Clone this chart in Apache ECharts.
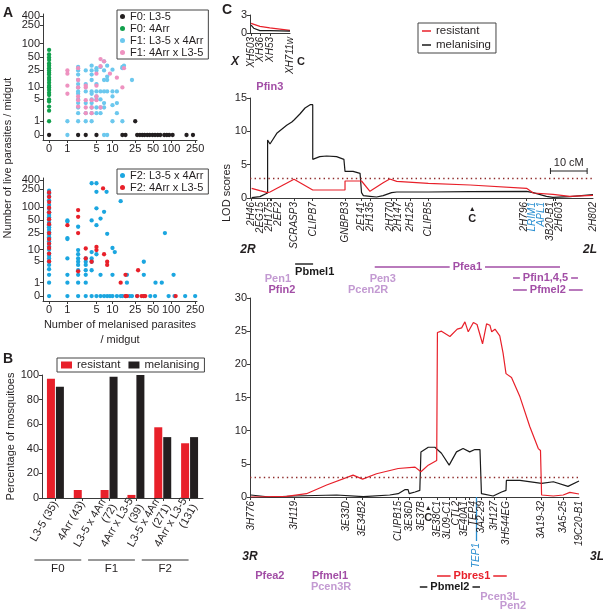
<!DOCTYPE html>
<html><head><meta charset="utf-8">
<script src="https://cdn.jsdelivr.net/npm/echarts@6/dist/echarts.min.js"></script>
<style>html,body{margin:0;padding:0;background:#fff}#c{width:603px;height:613px}</style>
</head><body><div id="c"></div>
<script>
// ================= DATA =================
// Panel A tick labels (log(x+1) scale)
const aTicksX = [0, 1, 5, 10, 25, 50, 100, 250];
const aTicksY = [0, 1, 5, 10, 25, 50, 100, 250, 400];
// Panel A top: [melanised, live]
const f0L35 = [[0,0],[2,0],[3,0],[5,0],[15,0],[17,0],[27,0],[30,0],[33,0],[36,0],[40,0],[44,0],[49,0],[54,0],[60,0],[66,0],[77,0],[85,0],[93,0],[106,0],[180,0],[230,0],[25,1]];
const f04Arr = [[0,72],[0,57],[0,49],[0,43],[0,36],[0,32],[0,28],[0,25],[0,22],[0,20],[0,17],[0,15],[0,13],[0,11],[0,10],[0,8.7],[0,7.4],[0,6.5],[0,5],[0,4.4],[0,3.2],[0,2.4],[0,1]];
const f1L35x4Arr = [[1,1],[1,0],[2,30],[2,25],[2,20],[2,15],[2,12],[2,10],[2,8],[2,7],[2,5],[2,4],[2,3],[2,2],[2,1],
  [3,25],[3,12],[3,8],[3,4],[3,2],[3,1],[4,32],[4,25],[4,20],[4,15],[4,8],[4,7],[4,5],[4,4],[4,3],[4,2],[4,1],
  [5,28],[5,25],[5,12],[5,8],[5,6],[5,5],[5,3],[5,2],[6,30],[6,8],[6,5],[6,3],[6,2],[7,40],[7,25],[7,15],[7,8],[7,4],[7,3],[7,0],
  [8,32],[8,18],[8,15],[8,8],[8,0],[10,26],[10,8],[10,6],[10,3.5],[10,1],[12,8],[12,4],[12,2],[15,30],[15,28],[15,1],[16,32],[22,15]];
const f14ArrxL35 = [[1,25],[1,21],[1,11],[1,7],[2,28],[2,15],[2,10],[2,6],[2,4.8],[2,3.2],[3,11],[3,10],[3,4.8],[3,3],[3,2],
  [4,4.8],[4,3],[4,2],[5,21],[5,11],[5,6],[5,4.8],[6,45],[6,31],[6,3],[7,40],[9,21],[12,17],[15,10],[16,28]];
// Panel A bottom
const f2L35x4Arr = [[0,0],[0,1],[0,2],[0,3],[0,4],[0,5],[0,6],[0,7],[0,8],[0,10],[0,12],[0,14],[0,16],[0,18],[0,20],[0,23],[0,26],[0,30],[0,34],[0,38],[0,43],[0,50],[0,58],[0,65],[0,75],[0,90],[0,110],[0,140],[0,170],[0,200],[0,230],
  [1,49],[1,46],[1,19],[1,18],[1,6],[1,2],[1,1],[1,0],[2,35],[2,9.8],[2,7.7],[2,6],[2,4.9],[2,4],[2,2.8],[2,2],[2,1],[2,0],
  [3,6],[3,4.9],[3,4],[3,2.8],[3,2],[3,1],[3,0],[4,340],[4,49],[4,8.7],[4,6],[4,4.9],[4,2.8],[4,0],[5,340],[5,218],[5,92],[5,38],[5,7.7],[5,0],
  [6,54],[6,2],[6,0],[7,77],[7,0],[7.8,218],[8,24],[8,0],[9,0],[10,11],[10,2],[10,0],[11,8.7],[12,0],[14,134],[14,0],[15,0],[17,0],[18,2],[18,1],[20,0],[22,0],
  [27,0],[35,4.9],[35,2],[35,0],[45,0],[54,0],[55,1],[70,1],[79,25],[91,0],[110,2],[114,0],[171,0],[250,0]];
const f24ArrxL35 = [[0,5],[0,8],[0,11],[0,14],[0,18],[0,25],[0,40],[0,52],[0,75],[0,95],[0,128],[0,167],[0,210],
  [1,38],[2,84],[2,59],[2,25],[2,2.6],[3,10.7],[3,6],[4,4.9],[5,11.7],[5,9.8],[6.7,260],[7,7.7],[8,4.9],[8,4],[14,1],[17,2],[28,2.8],
  [17,0],[18,0],[27,0],[32,0],[35,0],[37,0],[119,0]];
// Panel B
const bCats = ['L3-5 (35)', '4Arr (43)', 'L3-5 x 4Arr\n(72)', '4Arr x L3-5\n(39)', 'L3-5 x 4Arr\n(271)', '4Arr x L3-5\n(131)'];
const bResistant = [97, 6.5, 6.5, 2.5, 57.5, 44.5];
const bMelanising = [90.5, 0, 98.5, 100, 49.5, 49.5];
const bGroupNames = ['F0', 'F1', 'F2'];
const bGroupFirst = [0, 2, 4];
const bGroupLast = [1, 3, 5];
// Panel C, chromosome X (cM, LOD)
const chrXMarkers = ['XH503', 'XH36', 'XH53', 'XH711w'];
const chrXPos = [0.3, 2.7, 5.4, 10.9];
const chrXRes = [[0.3,1.6],[2.7,1.1],[5.4,0.85],[10.9,0.45]];
const chrXMel = [[0.3,1.3],[1.0,0.8],[2.7,0.4],[5.4,0.38],[10.9,0.3]];
// Chromosome 2
const chr2Markers = ['2H46','2EG15','2H175','2EF2','SCRASP3','CLIPB7','GNBPB3','2E141','2H135','2H770','2H147','2H125','CLIPB5','2H796','LRIM1','APL1','3B20-B1','2H603','2H802'];
const chr2Pos = [0.45, 4.8, 5.45, 5.7, 12.0, 17.1, 25.9, 30.4, 32.7, 38.6, 40.0, 43.6, 48.6, 75.4, 77.2, 79.0, 82.6, 83.1, 93.5];
const chr2Genes = ['LRIM1', 'APL1'];
const chr2Centromere = 60.6;
const chr2Mel = [[0.45,0.05],[2.7,0.2],[4.8,0.75],[4.8,8.7],[5.45,8.1],[7.3,9.7],[10.0,10.9],[11.4,11.4],[12.0,11.7],[13.6,12.6],[15.0,13.5],[16.4,14.0],[17.1,14.0],[17.1,5.8],[19.0,6.2],[20.9,6.3],[23.6,6.2],[25.6,5.8],[25.9,5.8],[25.9,4.0],[28.1,4.0],[30.0,3.7],[30.4,3.6],[30.4,0.8],[30.9,0.35],[32.7,0.25],[34.5,0.15],[36.3,0.35],[38.6,0.8],[40.0,0.9],[48.6,0.9],[60,0.95],[75.4,1.0],[77.2,0.8],[80.8,0.25],[82.6,0.1],[87.2,0.2],[93.5,0.5]];
const chr2Res = [[0.45,1.45],[2.7,1.1],[4.8,0.8],[5.45,0.9],[12.0,2.8],[17.1,1.2],[25.9,1.2],[25.9,2.55],[30.4,2.55],[32.7,1.0],[36.3,2.3],[38.1,2.85],[40.0,2.5],[48.6,2.2],[60,1.95],[75.4,1.45],[77.2,0.75],[82.6,0.55],[87.2,0.25],[93.5,0.4]];
// Chromosome 3
const chr3Markers = ['3H776','3H119','3E33D','3E34B2','CLIPB15','3E36D','3E37B','3E38C1','3L09-C1','CTL2','3E40A1','TEP4','3A2-29','3H127','3H544EG','3A19-32','3A5-25','19C20-B1'];
const chr3Pos = [0.2, 12.0, 26.2, 30.7, 40.4, 43.4, 46.6, 51.1, 54.3, 56.3, 58.6, 59.9, 63.1, 66.5, 69.8, 79.5, 85.4, 89.7];
const chr3Centromere = 48.6;
const chr3TEP1 = 61.8;
const chr3Mel = [[0.2,0.3],[5.4,0.0],[12,0.15],[23.6,0.3],[30.9,0.05],[38.1,0.3],[40.4,0.5],[42.2,1.1],[43.1,1.1],[43.4,0.5],[45,0.75],[46.3,1.0],[46.6,6.8],[48.6,7.5],[50.4,7.5],[52.2,6.6],[54.3,4.8],[56.3,6.8],[58.1,7.3],[59.9,6.8],[61.3,7.15],[62.7,7.15],[63.1,0.5],[66.3,0.15],[68.6,0.75],[69.8,1.0],[69.9,2.5],[73.6,2.5],[79.5,2.05],[82.7,2.3],[86.7,1.6],[89.7,2.4]];
const chr3Res = [[0.2,0.0],[10,0.1],[15.4,0.5],[20.9,1.8],[28.1,3.3],[30.7,2.7],[34.5,3.5],[40.4,4.3],[45,4.5],[46.6,3.8],[48.6,4.8],[50.9,5.5],[51.1,5.5],[51.1,24.8],[52.2,25.0],[54.5,24.2],[56.5,25.3],[57.7,25.5],[58.6,26.4],[59.5,24.9],[60.9,26.3],[61.9,26.0],[63.4,23.1],[64.5,26.1],[65.4,25.9],[65.9,24.9],[66.8,25.3],[68.1,24.3],[69.0,21.7],[69.8,18.6],[71.3,18.0],[73.6,15.1],[76.3,10.6],[78.6,7.3],[79.2,7.0],[79.5,0.3],[82.7,0.15],[85.4,0.3],[87.2,0.7],[89.7,0.45]];
const lodThreshold = 3;
// QTL intervals (cM); single-point entries are text-only labels
const chrXQtlNames = ['Pfin3'];
const chrXQtlStart = [5.4];
const chrXQtlEnd = [5.4];
const chr2QtlNames = ['Pbmel1','Pfea1','Pen1','Pfin2','Pen3','Pcen2R','Pfin1,4,5','Pfmel2'];
const chr2QtlStart = [12.3, 34.0, 7.6, 8.7, 36.2, 32.2, 71.7, 71.7];
const chr2QtlEnd = [17.2, 84.5, 7.6, 8.7, 36.2, 32.2, 89.4, 90.7];
const chr3QtlNames = ['Pfea2','Pfmel1','Pcen3R','Pbres1','Pbmel2','Pcen3L','Pen2'];
const chr3QtlStart = [5.4, 21.8, 22.1, 51.0, 46.3, 68.1, 71.7];
const chr3QtlEnd = [5.4, 21.8, 22.1, 70.0, 62.7, 68.1, 71.7];
const scaleBarCM = 10;

// ================= HELPERS / STYLE =================
const FONT = '"Liberation Sans", Arial, sans-serif';
const AX = '#3a3a3a', TXT = '#231f20';
const RED = '#e8202a', BLK = '#1a1a1a', BLUE_GENE = '#2a8fd1';
const PURPLE = '#a24ea6', LPURPLE = '#c39ad2';
const T = v => Math.log10(v + 1);
const tr = arr => arr.map(p => [T(p[0]), T(p[1])]);

function spread(pos, gap, lo, hi) {
  const out = pos.slice();
  for (let it = 0; it < 400; it++) {
    let moved = false;
    for (let i = 1; i < out.length; i++) {
      const d = out[i] - out[i - 1];
      if (d < gap - 1e-6) { const p = (gap - d) / 2; out[i - 1] -= p; out[i] += p; moved = true; }
    }
    if (out[0] < lo) { out[0] = lo; }
    if (out[out.length - 1] > hi) { out[out.length - 1] = hi; }
    if (!moved) break;
  }
  return out;
}

const G = {
  aTop: {left: 43, top: 14, width: 154, height: 126},
  aBot: {left: 43, top: 178, width: 154, height: 123},
  b: {left: 42, top: 375, width: 161, height: 123},
  x: {left: 250, top: 15, width: 40, height: 18},
  c2: {left: 250, top: 98, width: 343, height: 100},
  c3: {left: 250, top: 298, width: 329, height: 199}
};
const chrXMax = 10.9, chr2Max = 93.5, chr3Max = 89.7;
const aXMin = -0.1, aXMax = 2.43, aYMin = -0.11, aYMax = 2.65;
const gap2 = 8.8 * chr2Max / G.c2.width;
const gap3 = 8.6 * chr3Max / G.c3.width;
const chr2LabPos = spread(chr2Pos, gap2, 0, chr2Max);
const chr3LabPos = spread(chr3Pos, gap3, 0, chr3Max);
const key = v => Number(v).toFixed(4);
function makeMap(pos, names) { const m = {}; pos.forEach((p, i) => m[key(p)] = names[i]); return m; }
const chr2Map = makeMap(chr2LabPos, chr2Markers);
const chr3Map = makeMap(chr3LabPos, chr3Markers);
const chrXMap = makeMap(chrXPos, chrXMarkers);
const aXMap = makeMap(aTicksX.map(T), aTicksX.map(String));
const aYMap = makeMap(aTicksY.map(T), aTicksY.map(String));
const chr2TickPos = chr2Pos.filter((p, i) => chr2Genes.indexOf(chr2Markers[i]) < 0);
// Pad label lists with blank entries at both axis ends so no real label is treated as the min/max label
const padEnds = (vals, lo, hi) => [lo].concat(vals, [hi]);

function gridOf(g) { return Object.assign({outerBoundsMode: 'none', containLabel: false}, g); }
const LBL = {showMinLabel: false, showMaxLabel: false, hideOverlap: false};

function logXAxis(gi) {
  return {gridIndex: gi, type: 'value', min: aXMin, max: aXMax,
    axisLine: {show: true, onZero: false, lineStyle: {color: AX, width: 1}},
    axisTick: {show: true, length: 3, customValues: aTicksX.map(T), lineStyle: {color: AX}},
    axisLabel: Object.assign({customValues: padEnds(aTicksX.map(T), aXMin, aXMax), formatter: (v, i) => aXMap[key(v)] || '',
      fontSize: 11, color: TXT, margin: 3, fontFamily: FONT}, LBL),
    splitLine: {show: false}};
}
function logYAxis(gi) {
  return {gridIndex: gi, type: 'value', min: aYMin, max: aYMax,
    axisLine: {show: true, onZero: false, lineStyle: {color: AX, width: 1}},
    axisTick: {show: true, length: 3, customValues: aTicksY.map(T), lineStyle: {color: AX}},
    axisLabel: Object.assign({customValues: padEnds(aTicksY.map(T), aYMin, aYMax), formatter: v => aYMap[key(v)] || '',
      fontSize: 11, color: TXT, margin: 3, fontFamily: FONT}, LBL),
    splitLine: {show: false}};
}
function chrAxis(gi, max, tickPos, labPos, map, colorFn) {
  return {gridIndex: gi, type: 'value', min: 0, max: max, position: 'bottom',
    axisLine: {show: true, onZero: false, lineStyle: {color: AX, width: 1}},
    axisTick: {show: true, length: 3, customValues: tickPos, lineStyle: {color: AX}},
    axisLabel: Object.assign({customValues: padEnds(labPos, 0, max), rotate: 90, fontSize: 10, fontStyle: 'italic', fontFamily: FONT, margin: 4,
      formatter: v => map[key(v)] || '', color: colorFn || TXT}, LBL),
    splitLine: {show: false}};
}
function hiddenAxis(gi, max, extra) {
  return Object.assign({gridIndex: gi, type: 'value', min: 0, max: max, position: 'bottom',
    axisLine: {show: false, onZero: false}, axisTick: {show: false}, splitLine: {show: false}}, extra);
}
function lodYAxis(gi, max, interval) {
  return {gridIndex: gi, type: 'value', min: 0, max: max, interval: interval,
    axisLine: {show: true, onZero: false, lineStyle: {color: AX, width: 1}},
    axisTick: {show: true, length: 3, lineStyle: {color: AX}},
    axisLabel: {fontSize: 11, color: TXT, margin: 3, fontFamily: FONT, showMinLabel: true, showMaxLabel: true},
    splitLine: {show: false}};
}
function scatter(name, data, gi, color) {
  return {name, type: 'scatter', xAxisIndex: gi, yAxisIndex: gi, data: tr(data), symbolSize: 4.3,
    itemStyle: {color: color, opacity: 1}, z: 3};
}
function lodLine(name, data, xi, yi, color, withThreshold) {
  const s = {name, type: 'line', xAxisIndex: xi, yAxisIndex: yi, data: data, showSymbol: false, symbol: 'none',
    lineStyle: {color: color, width: 1.2}, itemStyle: {color: color}, z: 3};
  if (withThreshold) {
    s.markLine = {silent: true, symbol: 'none', label: {show: false},
      lineStyle: {type: [1.4, 3.2], color: '#8e2a2a', width: 1.4}, data: [{yAxis: lodThreshold}]};
  }
  return s;
}
const legBase = {selectedMode: false, borderColor: '#444', borderWidth: 1,
  textStyle: {fontSize: 11, color: TXT, fontFamily: FONT}};
const cRich = {a: {fontSize: 7, lineHeight: 8, color: TXT}, b: {fontSize: 11, fontWeight: 'bold', lineHeight: 11, color: TXT}};
const single = {showMinLabel: true, showMaxLabel: true, hideOverlap: false};

const option = {
  animation: false,
  textStyle: {fontFamily: FONT},
  grid: [gridOf(G.aTop), gridOf(G.aBot), gridOf(G.b), gridOf(G.x), gridOf(G.c2), gridOf(G.c3)],
  xAxis: [
    logXAxis(0),
    Object.assign(logXAxis(1), {name: 'Number of melanised parasites\n/ midgut', nameLocation: 'middle', nameGap: 16,
      nameTextStyle: {fontSize: 11, color: TXT, lineHeight: 15, fontFamily: FONT}}),
    {gridIndex: 2, type: 'category', data: bCats,
      axisLine: {show: true, onZero: false, lineStyle: {color: AX}},
      axisTick: {show: true, length: 3, alignWithLabel: true, interval: 0, lineStyle: {color: AX}},
      axisLabel: {interval: 0, rotate: 60, fontSize: 11, color: TXT, margin: 4, lineHeight: 12, fontFamily: FONT, hideOverlap: false}},
    chrAxis(3, chrXMax, chrXPos, chrXPos, chrXMap),
    chrAxis(4, chr2Max, chr2TickPos, chr2LabPos, chr2Map, v => (chr2Genes.indexOf(chr2Map[key(v)]) >= 0 ? BLUE_GENE : TXT)),
    hiddenAxis(4, chr2Max, {axisLabel: Object.assign({customValues: [chr2Centromere], margin: 7, formatter: () => '{a|▲}\n{b|C}', rich: cRich}, single)}),
    chrAxis(5, chr3Max, chr3Pos, chr3LabPos, chr3Map),
    hiddenAxis(5, chr3Max, {axisLabel: Object.assign({customValues: [chr3Centromere], margin: 7, formatter: () => '{a|▲}\n{b|C}', rich: cRich}, single)}),
    hiddenAxis(5, chr3Max, {axisTick: {show: true, customValues: [chr3TEP1], length: 44, lineStyle: {color: BLUE_GENE, width: 1.3}},
      axisLabel: Object.assign({customValues: [chr3TEP1], margin: 46, rotate: 90, fontSize: 10, fontStyle: 'italic', color: BLUE_GENE, formatter: () => 'TEP1'}, single)})
  ],
  yAxis: [
    logYAxis(0), logYAxis(1),
    {gridIndex: 2, type: 'value', min: 0, max: 100, interval: 20,
      axisLine: {show: true, lineStyle: {color: AX}}, axisTick: {show: true, length: 3, lineStyle: {color: AX}},
      axisLabel: {fontSize: 11, color: TXT, margin: 3, fontFamily: FONT, showMinLabel: true, showMaxLabel: true}, splitLine: {show: false},
      name: 'Percentage of mosquitoes', nameLocation: 'middle', nameGap: 23, nameTextStyle: {fontSize: 11, color: TXT, fontFamily: FONT}},
    lodYAxis(3, 3, 3),
    lodYAxis(4, 15, 5),
    lodYAxis(5, 30, 5)
  ],
  legend: [
    Object.assign({}, legBase, {data: ['F0: L3-5', 'F0: 4Arr', 'F1: L3-5 x 4Arr', 'F1: 4Arr x L3-5'],
      left: 117, top: 10, orient: 'vertical', icon: 'circle', itemWidth: 5, itemHeight: 5, itemGap: 1, padding: [1, 5, 1, 3],
      textStyle: Object.assign({}, legBase.textStyle, {lineHeight: 11})}),
    Object.assign({}, legBase, {data: ['F2: L3-5 x 4Arr', 'F2: 4Arr x L3-5'],
      left: 117, top: 169, orient: 'vertical', icon: 'circle', itemWidth: 5, itemHeight: 5, itemGap: 1, padding: [1, 5, 1, 3],
      textStyle: Object.assign({}, legBase.textStyle, {lineHeight: 11})}),
    Object.assign({}, legBase, {data: ['B-resistant', 'B-melanising'], formatter: n => n.slice(2),
      left: 57, top: 358, orient: 'horizontal', icon: 'rect', itemWidth: 11, itemHeight: 7, itemGap: 8, padding: [1, 5, 1, 4],
      textStyle: Object.assign({}, legBase.textStyle, {fontSize: 11.5, lineHeight: 12})}),
    Object.assign({}, legBase, {data: ['resistant', 'melanising'],
      left: 418, top: 23, orient: 'vertical', icon: 'rect', itemWidth: 9, itemHeight: 1.5, itemGap: 2, padding: [2, 5, 2, 4],
      textStyle: Object.assign({}, legBase.textStyle, {fontSize: 11.5, lineHeight: 12})})
  ],
  series: [
    scatter('F0: L3-5', f0L35, 0, '#231f20'),
    scatter('F0: 4Arr', f04Arr, 0, '#12a04d'),
    scatter('F1: L3-5 x 4Arr', f1L35x4Arr, 0, '#6cc8ee'),
    scatter('F1: 4Arr x L3-5', f14ArrxL35, 0, '#ee92c0'),
    scatter('F2: L3-5 x 4Arr', f2L35x4Arr, 1, '#1ba6e0'),
    scatter('F2: 4Arr x L3-5', f24ArrxL35, 1, '#e8202a'),
    {name: 'B-resistant', type: 'bar', xAxisIndex: 2, yAxisIndex: 2, data: bResistant, barWidth: 8, barGap: '12%', itemStyle: {color: RED}},
    {name: 'B-melanising', type: 'bar', xAxisIndex: 2, yAxisIndex: 2, data: bMelanising, barWidth: 8, barGap: '12%', itemStyle: {color: '#231f20'}},
    lodLine('resistant', chrXRes, 3, 3, RED, false),
    lodLine('melanising', chrXMel, 3, 3, BLK, false),
    lodLine('melanising', chr2Mel, 4, 4, BLK, false),
    lodLine('resistant', chr2Res, 4, 4, RED, true),
    lodLine('melanising', chr3Mel, 6, 5, BLK, false),
    lodLine('resistant', chr3Res, 6, 5, RED, true)
  ]
};

const chart = echarts.init(document.getElementById('c'), null, {renderer: 'canvas'});
chart.setOption(option);

// ================= ANNOTATIONS (positioned via the chart's own scales) =================
const px = (axis, v) => chart.convertToPixel({xAxisIndex: axis}, v);
function txt(x, y, text, o) {
  o = o || {};
  return {type: 'text', x: x, y: y, rotation: o.rot || 0, z: 50, silent: true,
    style: {text: text, fill: o.color || TXT, fontSize: o.size || 11, fontWeight: o.weight || 'normal',
      fontStyle: o.style || 'normal', fontFamily: FONT,
      align: o.align || 'center', verticalAlign: 'middle', textAlign: o.align || 'center', textVerticalAlign: 'middle',
      backgroundColor: o.bg, padding: o.pad}};
}
function ln(x1, y1, x2, y2, color, w) {
  return {type: 'line', z: 40, silent: true, shape: {x1, y1, x2, y2}, style: {stroke: color, lineWidth: w || 1.2}};
}
const qtlStyle = {
  'Pfin3': {y: 87, color: PURPLE},
  'Pbmel1': {y: 272, color: BLK, over: true},
  'Pfea1': {y: 267, color: PURPLE},
  'Pen1': {y: 279, color: LPURPLE},
  'Pfin2': {y: 290, color: PURPLE},
  'Pen3': {y: 279, color: LPURPLE},
  'Pcen2R': {y: 290, color: LPURPLE},
  'Pfin1,4,5': {y: 278, color: PURPLE},
  'Pfmel2': {y: 290, color: PURPLE},
  'Pfea2': {y: 576, color: PURPLE},
  'Pfmel1': {y: 576, color: PURPLE},
  'Pcen3R': {y: 587, color: LPURPLE},
  'Pbres1': {y: 576, color: RED},
  'Pbmel2': {y: 587, color: BLK},
  'Pcen3L': {y: 597, color: LPURPLE},
  'Pen2': {y: 606, color: LPURPLE}
};
function qtls(names, starts, ends, axis) {
  const els = [];
  names.forEach((n, i) => {
    const st = qtlStyle[n];
    const x1 = px(axis, starts[i]), x2 = px(axis, ends[i]);
    if (st.over) {
      els.push(ln(x1, st.y - 8, x2, st.y - 8, st.color, 1.4));
      els.push(txt(x1, st.y, n, {color: st.color, weight: 'bold', align: 'left'}));
    } else if (x2 - x1 > 1) {
      els.push(ln(x1, st.y, x2, st.y, st.color, 1.4));
      els.push(txt((x1 + x2) / 2, st.y, n, {color: st.color, weight: 'bold', bg: '#fff', pad: [0, 3]}));
    } else {
      els.push(txt(x1, st.y, n, {color: st.color, weight: 'bold'}));
    }
  });
  return els;
}
const g = [];
g.push(txt(8, 13, 'A', {weight: 'bold', size: 14}));
g.push(txt(8, 359, 'B', {weight: 'bold', size: 14}));
g.push(txt(227, 10, 'C', {weight: 'bold', size: 14}));
g.push(txt(8, 158, 'Number of live parasites / midgut', {rot: Math.PI / 2}));
bGroupNames.forEach((n, i) => {
  const a = px(2, bGroupFirst[i]) - 21, b = px(2, bGroupLast[i]) - 1;
  g.push(ln(a, 560, b, 560, '#333', 1));
  g.push(txt((a + b) / 2, 569, n, {size: 11.5}));
});
g.push(txt(235, 62, 'X', {weight: 'bold', style: 'italic', size: 12}));
g.push(txt(301, 62, 'C', {weight: 'bold', size: 11}));
g.push(txt(248, 250, '2R', {weight: 'bold', style: 'italic', size: 12}));
g.push(txt(590, 250, '2L', {weight: 'bold', style: 'italic', size: 12}));
g.push(txt(250, 557, '3R', {weight: 'bold', style: 'italic', size: 12}));
g.push(txt(597, 557, '3L', {weight: 'bold', style: 'italic', size: 12}));
g.push(txt(227, 193, 'LOD scores', {rot: Math.PI / 2}));
const sbEnd = px(4, chr2Max - 1.6), sbStart = px(4, chr2Max - 1.6 - scaleBarCM);
g.push(ln(sbStart, 171, sbEnd, 171, '#222', 1));
g.push(ln(sbStart, 168, sbStart, 174, '#222', 1));
g.push(ln(sbEnd, 168, sbEnd, 174, '#222', 1));
g.push(txt((sbStart + sbEnd) / 2, 163, '10 cM', {size: 11}));
qtls(chrXQtlNames, chrXQtlStart, chrXQtlEnd, 3).forEach(e => g.push(e));
qtls(chr2QtlNames, chr2QtlStart, chr2QtlEnd, 4).forEach(e => g.push(e));
qtls(chr3QtlNames, chr3QtlStart, chr3QtlEnd, 6).forEach(e => g.push(e));
chart.setOption({graphic: g});
</script></body></html>
